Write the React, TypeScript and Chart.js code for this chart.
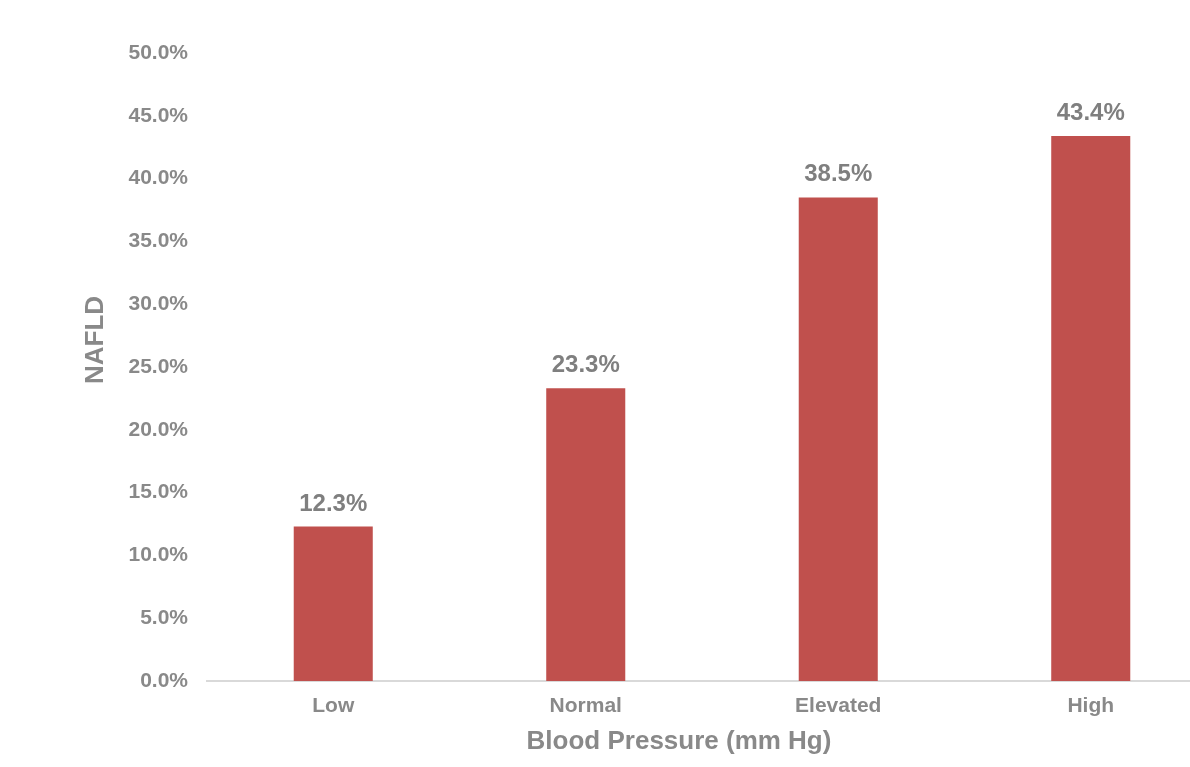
import React, { useEffect, useRef } from "react";
import { Chart, registerables } from "chart.js";

Chart.register(...registerables);

// Share of NAFLD by blood-pressure group
const categories = ["Low", "Normal", "Elevated", "High"];
const nafldPercent = [12.3, 23.3, 38.5, 43.4];

// Y axis range / tick step (percent)
const yMin = 0;
const yMax = 50;
const yStep = 5;

const xAxisTitle = "Blood Pressure (mm Hg)";
const yAxisTitle = "NAFLD";

const FONT = "'Liberation Sans', Arial, Helvetica, sans-serif";
const BAR_COLOR = "#C0504D";
const TEXT_GRAY = "#898989";
const LABEL_GRAY = "#7f7f7f";

const fmtPct = (v: number) => `${v.toFixed(1)}%`;

// Value labels above each bar
const valueLabels = {
  id: "valueLabels",
  afterDatasetsDraw(chart: any) {
    const { ctx } = chart;
    const meta = chart.getDatasetMeta(0);
    const data = chart.data.datasets[0].data as number[];
    ctx.save();
    ctx.font = `bold 24px ${FONT}`;
    ctx.fillStyle = LABEL_GRAY;
    ctx.textAlign = "center";
    ctx.textBaseline = "alphabetic";
    meta.data.forEach((bar: any, i: number) => {
      ctx.fillText(fmtPct(data[i]), bar.x, bar.y - 16);
    });
    ctx.restore();
  },
};

// Axis titles, placed relative to the chart area
const axisTitles = {
  id: "axisTitles",
  afterDraw(chart: any) {
    const { ctx, chartArea } = chart;
    ctx.save();
    ctx.font = `bold 26px ${FONT}`;
    ctx.fillStyle = TEXT_GRAY;
    ctx.textAlign = "center";
    ctx.textBaseline = "alphabetic";
    ctx.fillText(xAxisTitle, chartArea.left + 472, chartArea.bottom + 68);
    ctx.translate(chartArea.left - 104, chartArea.top + 287);
    ctx.rotate(-Math.PI / 2);
    ctx.fillText(yAxisTitle, 0, 0);
    ctx.restore();
  },
};

export default function App() {
  const canvasRef = useRef<HTMLCanvasElement | null>(null);

  useEffect(() => {
    document.body.style.margin = "0";
    const canvas = canvasRef.current;
    if (!canvas) return;
    const chart = new Chart(canvas, {
      type: "bar",
      data: {
        labels: categories,
        datasets: [
          {
            label: yAxisTitle,
            data: nafldPercent,
            backgroundColor: BAR_COLOR,
            borderWidth: 0,
            barPercentage: 0.313,
            categoryPercentage: 1,
          },
        ],
      },
      options: {
        responsive: false,
        animation: false,
        devicePixelRatio: 1,
        layout: { padding: { top: 53, right: 23, bottom: 0, left: 0 } },
        plugins: {
          legend: { display: false },
          tooltip: { enabled: false },
        },
        scales: {
          x: {
            grid: { display: false, drawTicks: false },
            border: { display: true, color: "#d9d9d9", width: 2 },
            ticks: {
              color: TEXT_GRAY,
              font: { family: FONT, size: 21, weight: "bold" },
              padding: 13,
            },
            afterFit: (scale: any) => {
              scale.height = 86;
            },
          },
          y: {
            min: yMin,
            max: yMax,
            grid: { display: false, drawTicks: false },
            border: { display: false },
            ticks: {
              stepSize: yStep,
              color: TEXT_GRAY,
              font: { family: FONT, size: 21, weight: "bold" },
              padding: 19,
              callback: (v: any) => fmtPct(Number(v)),
            },
            afterFit: (scale: any) => {
              scale.width = 207;
            },
          },
        },
      },
      plugins: [valueLabels, axisTitles],
    });
    return () => chart.destroy();
  }, []);

  return (
    <div
      style={{
        position: "fixed",
        left: 0,
        top: 0,
        width: 1190,
        height: 767,
        overflow: "hidden",
        background: "#ffffff",
      }}
    >
      <canvas ref={canvasRef} width={1240} height={767} style={{ display: "block" }} />
    </div>
  );
}
